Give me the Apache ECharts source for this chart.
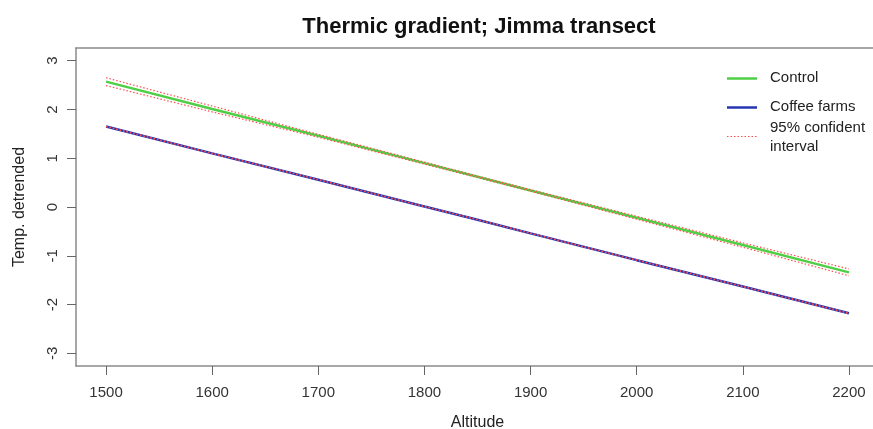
<!DOCTYPE html>
<html>
<head>
<meta charset="utf-8">
<script src="https://cdn.jsdelivr.net/npm/echarts@6/dist/echarts.min.js"></script>
<style>html,body{margin:0;padding:0;background:#fff;}#c{width:873px;height:429px;}</style>
</head>
<body>
<div id="c"></div>
<script>
const altitudes = [1500, 1600, 1700, 1800, 1850, 1900, 2000, 2100, 2200];
const xTicks = [1500, 1600, 1700, 1800, 1900, 2000, 2100, 2200];
const yTicks = [-3, -2, -1, 0, 1, 2, 3];
const controlFit = [2.57, 2.01, 1.46, 0.90, 0.62, 0.34, -0.22, -0.78, -1.34];
const controlUpper = [2.65, 2.07, 1.49, 0.92, 0.635, 0.355, -0.19, -0.735, -1.27];
const controlLower = [2.49, 1.95, 1.43, 0.88, 0.605, 0.325, -0.25, -0.825, -1.41];
const coffeeFit = [1.65, 1.10, 0.56, 0.01, -0.26, -0.54, -1.09, -1.63, -2.18];
const coffeeUpper = [1.655, 1.104, 0.562, 0.011, -0.259, -0.538, -1.087, -1.626, -2.175];
const coffeeLower = [1.645, 1.096, 0.558, 0.009, -0.261, -0.542, -1.093, -1.634, -2.185];

const pair = arr => altitudes.map((a, i) => [a, arr[i]]);
const FONT = '"Liberation Sans", Arial, sans-serif';
const green = '#4fcf45', blue = '#2536b0', red = '#ff4d4d';
const boxColor = '#8a8a8a';

const chart = echarts.init(document.getElementById('c'), null, {renderer: 'canvas'});
const ciStyle = {color: red, width: 1.2, type: [1.5, 2]};
const mk = (name, arr, style, z) => ({
  name, type: 'line', data: pair(arr), showSymbol: false, symbol: 'none',
  lineStyle: style, z, silent: true, animation: false
});
chart.setOption({
  animation: false,
  title: {
    text: 'Thermic gradient; Jimma transect', left: 474, top: 11, textAlign: 'center',
    textStyle: {fontFamily: FONT, fontSize: 22, fontWeight: 'bold', color: '#111'}
  },
  grid: {left: 76, top: 48, bottom: 63, right: -6, show: false, containLabel: false, outerBoundsMode: 'none'},
  xAxis: [{
    type: 'value', min: 1471.7, max: 2228.3, position: 'bottom',
    axisLine: {show: true, onZero: false, lineStyle: {color: boxColor, width: 1.5}},
    axisTick: {show: true, length: 9, customValues: xTicks, lineStyle: {color: '#666', width: 1}},
    axisLabel: {customValues: xTicks, margin: 19, fontFamily: FONT, fontSize: 15, color: '#333',
      formatter: v => String(v)},
    splitLine: {show: false},
    name: 'Altitude', nameLocation: 'middle', nameGap: 49,
    nameTextStyle: {fontFamily: FONT, fontSize: 16, color: '#222'}
  }, {
    type: 'value', min: 1471.7, max: 2228.3, position: 'top',
    axisLine: {show: true, onZero: false, lineStyle: {color: boxColor, width: 1.5}},
    axisTick: {show: false}, axisLabel: {show: false}, splitLine: {show: false}
  }],
  yAxis: {
    type: 'value', min: -3.26, max: 3.26,
    axisLine: {show: true, onZero: false, lineStyle: {color: boxColor, width: 1.5}},
    axisTick: {show: true, length: 9, customValues: yTicks, lineStyle: {color: '#666', width: 1}},
    axisLabel: {customValues: yTicks, rotate: 90, margin: 16, fontFamily: FONT, fontSize: 15, color: '#333'},
    splitLine: {show: false},
    name: 'Temp. detrended', nameLocation: 'middle', nameGap: 48,
    nameTextStyle: {fontFamily: FONT, fontSize: 16, color: '#222'}
  },
  series: [
    mk('Control', controlFit, {color: green, width: 2.5}, 2),
    mk('Coffee farms', coffeeFit, {color: blue, width: 2.5}, 2),
    mk('ctrl upper', controlUpper, ciStyle, 3),
    mk('ctrl lower', controlLower, ciStyle, 3),
    mk('coffee upper', coffeeUpper, ciStyle, 3),
    mk('coffee lower', coffeeLower, ciStyle, 3)
  ],
  graphic: [
    {type: 'line', shape: {x1: 727, y1: 78.5, x2: 757, y2: 78.5}, style: {stroke: green, lineWidth: 2.5}},
    {type: 'line', shape: {x1: 727, y1: 107.5, x2: 757, y2: 107.5}, style: {stroke: blue, lineWidth: 2.5}},
    {type: 'line', shape: {x1: 727, y1: 136.5, x2: 757, y2: 136.5}, style: {stroke: red, lineWidth: 1.2, lineDash: [1.5, 2]}},
    {type: 'text', x: 770, y: 78, style: {text: 'Control', font: '15px ' + FONT, fill: '#222', textVerticalAlign: 'middle'}},
    {type: 'text', x: 770, y: 107, style: {text: 'Coffee farms', font: '15px ' + FONT, fill: '#222', textVerticalAlign: 'middle'}},
    {type: 'text', x: 770, y: 128, style: {text: '95% confident', font: '15px ' + FONT, fill: '#222', textVerticalAlign: 'middle'}},
    {type: 'text', x: 770, y: 147, style: {text: 'interval', font: '15px ' + FONT, fill: '#222', textVerticalAlign: 'middle'}}
  ]
});
</script>
</body>
</html>
